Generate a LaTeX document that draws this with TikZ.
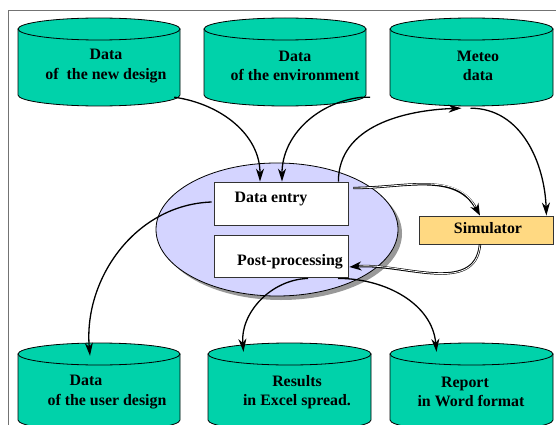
\documentclass[tikz,border=0pt]{standalone}
\usepackage{fontspec}
\setmainfont{Liberation Serif}
\usetikzlibrary{shapes.geometric,arrows.meta,calc}

\definecolor{cylteal}{RGB}{0,210,170}
\definecolor{lavender}{RGB}{212,212,255}
\definecolor{simorange}{RGB}{255,217,130}

\tikzset{
  cylfill/.style={fill=cylteal,draw=black,line width=0.8pt},
  lbl/.style={font=\bfseries\fontsize{15.9}{19.5}\selectfont,align=center,inner sep=0pt},
  panel/.style={draw=black!80,line width=0.8pt,fill=white,inner sep=0pt},
  flow/.style={line width=1.3pt,-{Stealth[length=13pt,width=8pt,inset=4pt]}},
  pipeout/.style={line width=2.4pt,black,-{Stealth[length=12pt,width=9pt,inset=4pt]}},
  pipein/.style={line width=0.8pt,white,shorten >=10pt,shorten <=0.8pt}
}

% database cylinder: name, left x, right x, top y (page units, y downwards)
\newcommand\dbcyl[4]{%
  \pgfmathsetmacro\cylcx{(#2+#3)/2}%
  \pgfmathsetmacro\cylrx{(#3-#2)/2}%
  \pgfmathsetmacro\cylw{#3-#2}%
  \filldraw[cylfill] (#2,-#4-11) -- (#2,-#4-77)
     arc[start angle=180,end angle=360,x radius=\cylrx pt,y radius=11pt]
     -- (#3,-#4-11) -- cycle;
  \draw[cylfill] (\cylcx,-#4-11) ellipse[x radius=\cylrx pt,y radius=11pt];
  \node[inner sep=0pt,minimum width=\cylw pt,minimum height=88pt] (#1) at (\cylcx,-#4-44) {};
}

% piped (double) connector drawn as black outline with white core
\newcommand\pipe[1]{%
  \draw[pipeout] #1;
  \draw[pipein] #1;
}

\begin{document}
\begin{tikzpicture}[x=1pt,y=1pt]
  \useasboundingbox (0,0) rectangle (556,-425);
  \fill[white] (0,0) rectangle (556,-425);

  % outer frame
  \draw[black!55,line width=0.9pt] (8.5,-440) -- (8.5,-10.6) -- (570,-10.6);

  % input stores
  \dbcyl{c1}{18}{180}{18}
  \dbcyl{c2}{204}{366}{18}
  \dbcyl{c3}{390}{553}{18}
  % output stores
  \dbcyl{c4}{18}{180}{343}
  \dbcyl{c5}{208}{371}{343}
  \dbcyl{c6}{390}{553}{343}

  \node[lbl] (c1t) at (106,-66) {Data\\of\ \ the new design};
  \node[lbl] (c2t) at (295,-66) {Data\\of the environment};
  \node[lbl] (c3t) at (478,-66) {Meteo\\data};
  \node[lbl] (c4t) at (107,-392) {Data\hspace*{42pt}\\of the user design};
  \node[lbl] (c5t) at (297,-392) {Results\\in Excel spread.};
  \node[lbl] (c6t) at (471,-392) {Report\hspace*{12pt}\\in Word format};

  % application ellipse with shadow
  \fill[black!40] (281,-233.5) ellipse[x radius=121pt,y radius=66.5pt];
  \node[ellipse,draw=black,line width=0.8pt,fill=lavender,inner sep=0pt,
        minimum width=242pt,minimum height=133pt] (app) at (277,-229.5) {};

  \node[panel,minimum width=134pt,minimum height=43pt] (de) at (281,-203.5) {};
  \node[panel,minimum width=134pt,minimum height=42pt] (pp) at (281,-256) {};
  \node[lbl] (det) at (271,-199) {Data entry};
  \node[lbl] (ppt) at (290,-262) {Post-processing};

  \node[draw=black!80,line width=0.8pt,fill=simorange,inner sep=0pt,
        minimum width=134pt,minimum height=28pt] (sim) at (486,-230) {};
  \node[lbl] (simt) at (488,-228) {Simulator};

  % data flow
  \draw[flow] ($(c1.south east)+(-6,9)$) to[out=-8,in=90] ($(de.north)+(-21,0)$);
  \draw[flow] ($(c2.south east)+(4,9)$) -- ($(c2.south east)+(-4,9)$)
     to[out=186,in=90] ($(de.north)+(1,0)$);
  \draw[flow] ($(de.north east)+(-10,0)$) to[out=90,in=182] ($(c3.south)+(-10,-2)$);
  \draw[flow] ($(c3.south)+(-1,-2)$) to[out=0,in=92] ($(sim.north east)+(-7,0)$);
  \pipe{($(de.east)+(5,15.5)$) to[out=0,in=118] ($(sim.north)+(-6,0)$)}
  \pipe{($(sim.south)+(-6,0)$) to[out=-95,in=5] ($(pp.east)+(1,-11)$)}
  \draw[flow] ($(de.west)+(-2,1.5)$) to[out=182,in=95] ($(c4.north)+(-9,-13)$);
  \draw[flow] ($(pp.south)+(27,-1)$) to[out=182,in=95] ($(c5.north)+(-46,-9)$);
  \draw[flow] ($(pp.south)+(57,-1)$) to[out=0,in=95] ($(c6.north)+(-35,-9)$);
\end{tikzpicture}
\end{document}
